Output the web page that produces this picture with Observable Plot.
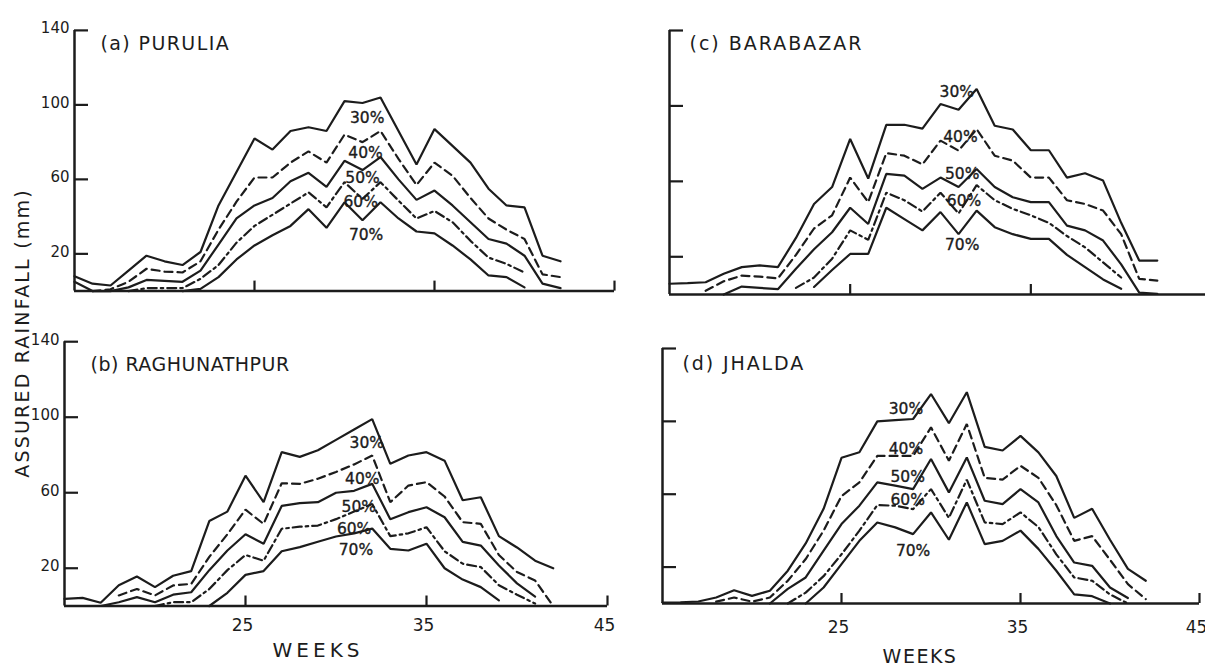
<!DOCTYPE html>
<html>
<head>
<meta charset="utf-8">
<script src="https://cdn.jsdelivr.net/npm/d3@7"></script>
<script src="https://cdn.jsdelivr.net/npm/@observablehq/plot@0.6"></script>
<style>
  html, body { margin: 0; padding: 0; background: #ffffff; overflow: hidden; width: 1205px; height: 665px; }
  #chart { position: relative; width: 1205px; height: 665px; font-family: "DejaVu Sans", sans-serif; color: #1c1c1c; }
  .panel { position: absolute; }
  .panel svg { max-width: none !important; background: transparent !important; overflow: visible; }
  #ylab { position: absolute; left: 22px; top: 333px; transform: translate(-50%, -50%) rotate(-90deg);
          white-space: nowrap; font-size: 19px; letter-spacing: 2.2px; color: #1c1c1c; }
</style>
</head>
<body>
<div id="chart"><div id="ylab">ASSURED RAINFALL (mm)</div></div>
<script>
const n = null;
const weeks = [15,16,17,18,19,20,21,22,23,24,25,26,27,28,29,30,31,32,33,34,35,36,37,38,39,40,41,42];
const percentLabels = ["30%", "40%", "50%", "60%", "70%"];
const yTicks = [20, 60, 100, 140];
const xTicks = [25, 35, 45];

// (a) PURULIA
const purulia30 = [8,4,3,11,19,16,14,21,46,64,82,76,86,88,86,102,101,104,86,68,87,78,69,55,46,45,19,16];
const purulia40 = [n,0,1,5,12,10.5,10,16,33,48,61,61,69,75,69,84,80,86,71,57,69,62,50,39,33,28,9,7.5];
const purulia50 = [5,0,0,2,6,5.5,5,11,25,39,46,50,59,63.5,56,70,65,72,60,49,54,46,37,28,25.5,19,4,1.6];
const purulia60 = [n,n,n,0,1.6,1.6,1.6,6.6,14,26,35,41,47,53,45,58.5,49.5,58.5,48.6,39,43,37,27,18,14.6,10,n,n];
const purulia70 = [n,n,n,n,n,n,0,1.2,7.5,17,24.5,30,35,44,34,47.7,38,47.7,39,32,31,24.5,17,8.4,7.5,2,n,n];
const puruliaLabelWeek = [31.26, 31.17, 31.0, 30.9, 31.2];
const puruliaLabelMm = [92.7, 73.9, 60.5, 47.6, 29.9];

// (b) RAGHUNATHPUR
const raghunathpur30 = [3.8,4.3,1.7,11,15.6,10,16,18.5,45,50,69,55,81.5,79,82.5,88,93.5,99,75.3,79.7,81.5,77,56,57.6,37,31,24,20];
const raghunathpur40 = [n,n,n,5.6,9,5.6,10.9,11.7,26,38,51,43.5,65,64.7,67.4,71,75,79.7,55,63.8,65.6,58,44.4,43.5,27,18,13.5,0];
const raghunathpur50 = [n,n,0,2,4.7,2,6,7.3,19,29.4,38,33,53,54.5,55,60,61,64.7,46,49.7,52.3,47,34,32,21.5,12,5,n];
const raghunathpur60 = [n,n,n,n,n,0,2,2,9,19,27,24,40.9,42,42.6,46,50,54,37,38.5,41.7,29,22.4,20.6,11,6,1.3,n];
const raghunathpur70 = [n,n,n,n,n,n,n,n,0,7,16.5,18.5,29,31.2,34,36.8,38.5,41,30.3,29.4,33,20,14,10,3,n,n,n];
const raghunathpurLabelWeek = [31.7, 31.45, 31.26, 31.0, 31.1];
const raghunathpurLabelMm = [86.3, 67.4, 52.3, 40.9, 29.4];

// (c) BARABAZAR
const barabazar30 = [5.7,6,6.5,11,14.5,15.4,14.5,30,48,57,82.5,61.5,90,90,88,101,98,109,89.5,87.5,76.5,76.5,62,64.3,60.4,38,18,18];
const barabazar40 = [n,n,2,7,10,9.5,8.5,21,35,42,62,49,75,73.6,69,81.6,76.3,87.7,73.6,71,62,62,50,48,44.5,32,8.3,7.4];
const barabazar50 = [n,n,n,0,4.2,3.5,2.8,13.6,24,33,46,37.4,64,63,56,62,57,66.6,57,51.6,49,49,36.5,34,28.6,16,1,0.4];
const barabazar60 = [n,n,n,n,n,n,n,3.5,9,19,34,29,54,50,44,54,43,58,50,45.4,42,38,31,25,17,9,n,n];
const barabazar70 = [n,n,n,n,n,n,n,n,4,13,21.5,21.5,46,40,34,43.7,32,44.5,35.7,32,29.5,29.5,21,14.5,8,3,n,n];
const barabazarLabelWeek = [30.9, 31.1, 31.2, 31.3, 31.2];
const barabazarLabelMm = [107.5, 83.3, 63.9, 49.8, 26];

// (d) JHALDA
const jhalda30 = [0.5,0.7,1.1,3.3,7.3,4.2,7,18,33,52,80,83,100,100.7,101.3,115,99,116,86,84,92,83,70,47,52,35,19,12.5];
const jhalda40 = [n,n,n,1,3.3,1,3.3,12.5,24.4,40,59,66.5,81,81,81,96.7,78.4,98.5,69,68,75.6,69,54,34.4,37,24,10.6,2.4];
const jhalda50 = [n,n,n,n,n,n,0,8,14.3,29,43.6,53.7,66.5,64.7,62.8,79.3,61,80.2,56.4,54.6,62.8,55.5,37,22.5,20.7,8.8,3,n];
const jhalda60 = [n,n,n,n,n,n,n,0,6,15,27,40,54,53.7,51.8,62.8,47,68,44.5,43.6,50,42,27,14.3,12.5,5,0,n];
const jhalda70 = [n,n,n,n,n,n,n,n,0,8.8,21.6,34.4,44.5,41.8,38.1,50,35,55.5,32.6,34.4,40,30,18,5,4,0,n,n];
const jhaldaLabelWeek = [28.6, 28.6, 28.7, 28.7, 29.0];
const jhaldaLabelMm = [107, 85, 69.4, 56.6, 29];

const ink = "#1c1c1c";
const dashes = [undefined, "8,5", undefined, "9,4,2.5,4", undefined];

const panels = [
  {title: "(a) PURULIA", series: [purulia30, purulia40, purulia50, purulia60, purulia70],
   lw: puruliaLabelWeek, lm: puruliaLabelMm,
   left: 0, top: 0, width: 620, height: 310, mL: 74, mR: 6, mT: 29.9, mB: 19.4,
   yLabels: true, xLabels: false, tdx: 26, tdy: 14, ls: 1.4},
  {title: "(b) RAGHUNATHPUR", series: [raghunathpur30, raghunathpur40, raghunathpur50, raghunathpur60, raghunathpur70],
   lw: raghunathpurLabelWeek, lm: raghunathpurLabelMm,
   left: 0, top: 320, width: 620, height: 345, mL: 64, mR: 13, mT: 21.2, mB: 59.5,
   yLabels: true, xLabels: true, tdx: 26, tdy: 23, ls: 0.5, xPad: 13, wdx: -18, wdy: 44.5, wfs: 20, wls: 4},
  {title: "(c) BARABAZAR", series: [barabazar30, barabazar40, barabazar50, barabazar60, barabazar70],
   lw: barabazarLabelWeek, lm: barabazarLabelMm,
   left: 620, top: 0, width: 600, height: 310, mL: 49, mR: 9, mT: 30, mB: 16,
   yLabels: false, xLabels: false, tdx: 20, tdy: 13.5, ls: 2},
  {title: "(d) JHALDA", series: [jhalda30, jhalda40, jhalda50, jhalda60, jhalda70],
   lw: jhaldaLabelWeek, lm: jhaldaLabelMm,
   left: 620, top: 320, width: 600, height: 345, mL: 42, mR: 21, mT: 28, mB: 62,
   yLabels: false, xLabels: true, tdx: 20, tdy: 15.5, ls: 1.9, xPad: 17, wdx: -11, wdy: 53, wfs: 19, wls: 1.5}
];

const chart = document.getElementById("chart");

for (const p of panels) {
  const marks = [
    Plot.ruleX([15], {stroke: ink, strokeWidth: 2.5}),
    Plot.ruleY([0], {stroke: ink, strokeWidth: 2.5}),
    Plot.axisY({ticks: yTicks, tickSize: 14, dx: 14, tickFormat: () => "", stroke: ink, strokeWidth: 2.2, label: null}),
    Plot.axisX({ticks: xTicks, tickSize: 10, dy: -10, tickFormat: () => "", stroke: ink, strokeWidth: 2.2, label: null})
  ];
  if (p.yLabels) {
    marks.push(Plot.axisY({ticks: yTicks, tickSize: 0, tickPadding: 5, dy: -2, fontSize: 15, fill: ink, label: null}));
  }
  if (p.xLabels) {
    marks.push(Plot.axisX({ticks: xTicks, tickSize: 0, tickPadding: p.xPad, dx: -3, fontSize: 17, fill: ink, label: null}));
    marks.push(Plot.text(["WEEKS"], {frameAnchor: "bottom", dx: p.wdx, dy: p.wdy, lineAnchor: "middle",
      fontSize: p.wfs, fill: ink}));
  }
  p.series.forEach((vals, i) => {
    const data = weeks.map((w, j) => ({week: w, mm: vals[j]}));
    marks.push(Plot.line(data, {x: "week", y: "mm", stroke: ink, strokeWidth: 2.2,
      strokeDasharray: dashes[i], strokeLinejoin: "miter"}));
  });
  const labelData = percentLabels.map((t, i) => ({t, week: p.lw[i], mm: p.lm[i]}));
  marks.push(Plot.text(labelData, {x: "week", y: "mm", text: "t", fontSize: 15.5, fill: ink, textAnchor: "middle",
    stroke: ink, strokeWidth: 0.35}));
  marks.push(Plot.text([p.title], {frameAnchor: "top-left", textAnchor: "start", lineAnchor: "middle",
    dx: p.tdx, dy: p.tdy, fontSize: 19, fill: ink}));

  const svg = Plot.plot({
    width: p.width, height: p.height,
    marginLeft: p.mL, marginRight: p.mR, marginTop: p.mT, marginBottom: p.mB,
    x: {domain: [15, 45], axis: null},
    y: {domain: [0, 140], axis: null},
    style: {fontFamily: '"DejaVu Sans", sans-serif', color: ink, background: "transparent"},
    marks
  });
  d3.select(svg).selectAll("text").each(function() {
    const t = this.textContent;
    if (t === p.title) this.setAttribute("letter-spacing", p.ls);
    if (t === "WEEKS") this.setAttribute("letter-spacing", p.wls);
  });
  const div = document.createElement("div");
  div.className = "panel";
  div.style.left = p.left + "px";
  div.style.top = p.top + "px";
  div.style.width = p.width + "px";
  div.style.height = p.height + "px";
  div.appendChild(svg);
  chart.appendChild(div);
}
</script>
</body>
</html>
